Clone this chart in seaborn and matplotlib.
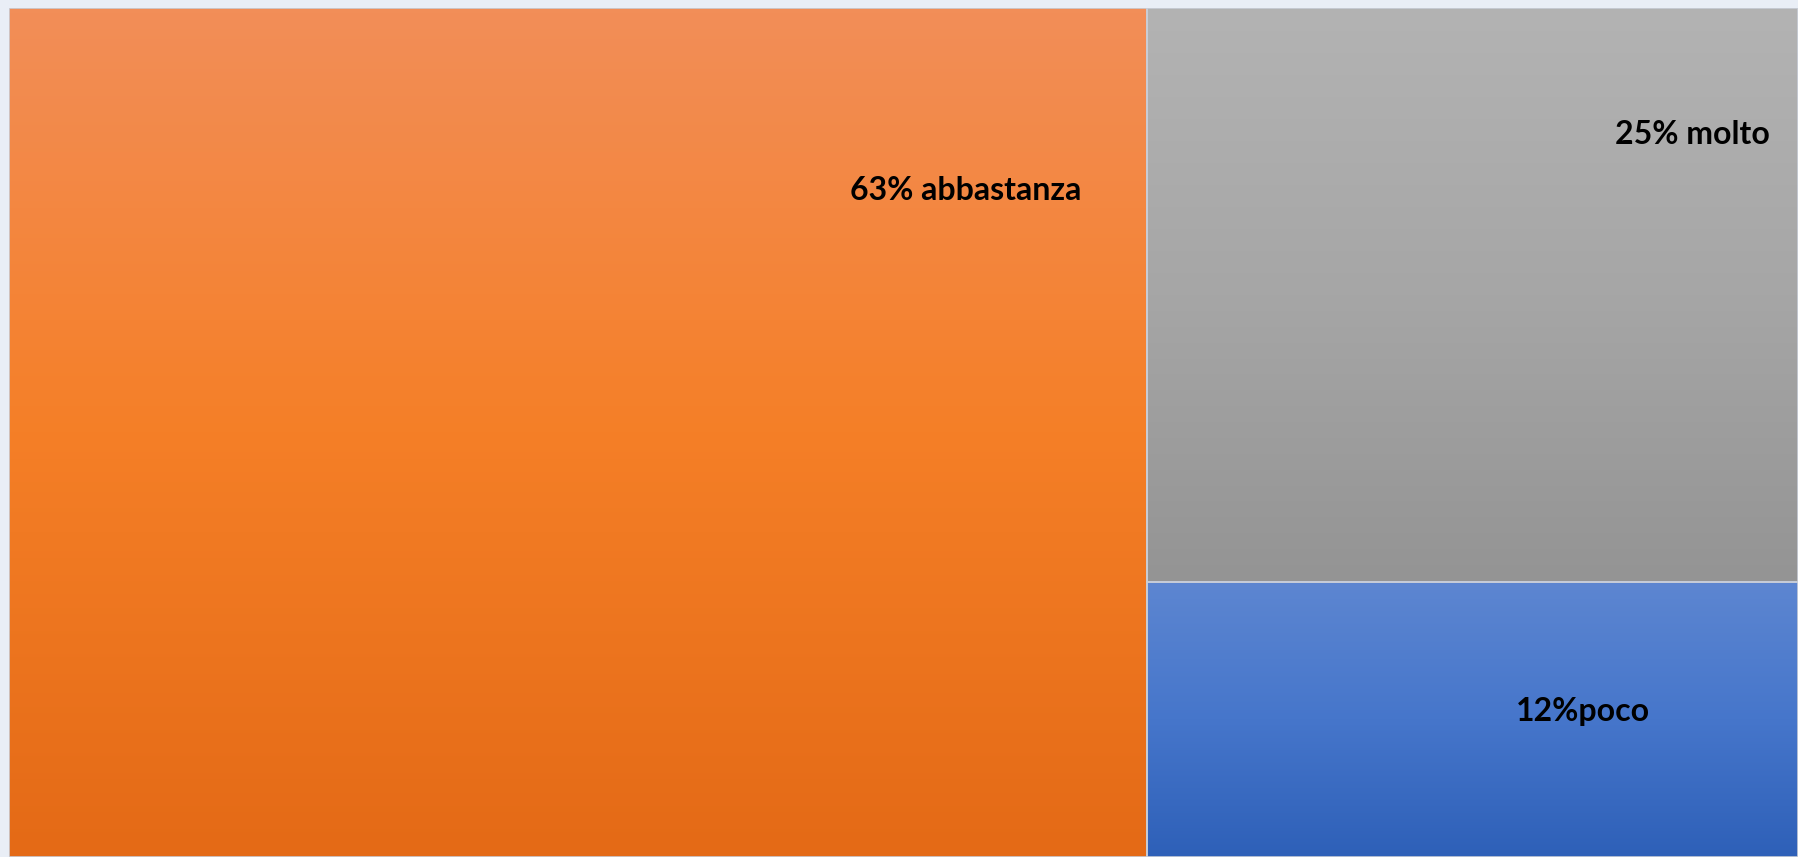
import numpy as np
import pandas as pd
import matplotlib.pyplot as plt
import seaborn as sns
from matplotlib.colors import LinearSegmentedColormap
from matplotlib.patches import Rectangle

# data (area shares; labels as printed)
categories = ['abbastanza', 'molto', 'poco']
values = [63.6, 24.6, 11.8]
labels = ['63% abbastanza', '25% molto', '12%poco']
# gradient colours (top, middle, bottom)
grads = [['#F28E58', '#F57F27', '#E46A16'],
         ['#B3B3B3', '#A6A6A6', '#949494'],
         ['#5D86D1', '#4676CB', '#2E60B8']]

df = pd.DataFrame({'cat': categories, 'val': values, 'label': labels})

sns.set_theme(style='white')
plt.rcParams['font.family'] = ['Lato', 'DejaVu Sans']

fig = plt.figure(figsize=(17.98, 8.57), dpi=100, facecolor='#E9EEF6')
ax = fig.add_axes([9 / 1798, 0, 1 - 9 / 1798, 1 - 8 / 857])
ax.set_xlim(0, 1)
ax.set_ylim(0, 1)
ax.set_axis_off()

# slice-and-dice layout: first item takes a column, the rest stack on the right
total = df['val'].sum()
w0 = df['val'][0] / total
rest = df['val'][1:].sum()
rects = [(0, 0, w0, 1)]
y_top = 1.0
for v in df['val'][1:]:
    h = v / rest
    rects.append((w0, y_top - h, 1 - w0, h))
    y_top -= h

grad = np.linspace(0, 1, 256).reshape(-1, 1)
for (x, y, w, h), cols in zip(rects, grads):
    cmap = LinearSegmentedColormap.from_list('g', cols)
    ax.imshow(grad, cmap=cmap, aspect='auto', extent=(x, x + w, y, y + h),
              origin='upper', interpolation='bilinear', zorder=1)
    ax.add_patch(Rectangle((x, y), w, h, fill=False, edgecolor='#C9CED8',
                           lw=1.2, zorder=2))

# labels
tkw = dict(fontsize=23, fontweight='bold', color='black', zorder=3, va='center')
r = rects[0]
ax.text(r[0] + r[2] * 0.841, r[1] + r[3] * 0.785, df['label'][0], ha='center', **tkw)
r = rects[1]
ax.text(r[0] + r[2] - 0.016, r[1] + r[3] * 0.78, df['label'][1], ha='right', **tkw)
r = rects[2]
ax.text(r[0] + r[2] * 0.67, r[1] + r[3] * 0.53, df['label'][2], ha='center', **tkw)

plt.savefig('out.png', dpi=100, facecolor=fig.get_facecolor())
